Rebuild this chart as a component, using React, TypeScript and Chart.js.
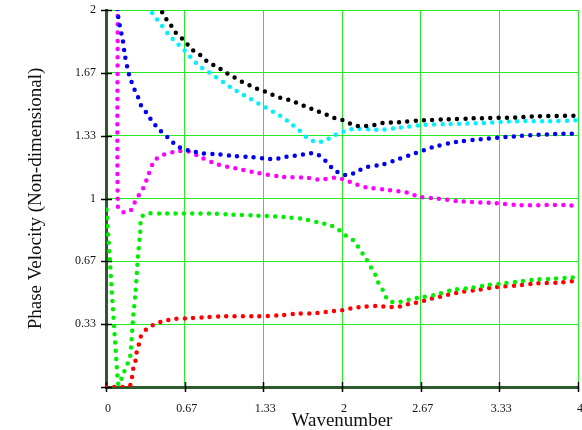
import React, { useEffect, useRef } from "react";
import { Chart, registerables } from "chart.js";

Chart.register(...registerables);

const xTickValues = [0, 2 / 3, 4 / 3, 2, 8 / 3, 10 / 3, 4];
const xTickLabels = ["0", "0.67", "1.33", "2", "2.67", "3.33", "4"];
const yTickValues = [0, 1 / 3, 2 / 3, 1, 4 / 3, 5 / 3, 2];
const yTickLabels = ["", "0.33", "0.67", "1", "1.33", "1.67", "2"];

const blackX = [0.45, 0.49, 0.54, 0.59, 0.66, 0.73, 0.8, 0.87, 0.94, 1.01, 1.08, 1.15, 1.22, 1.29, 1.36, 1.43, 1.5, 1.57, 1.64, 1.71, 1.78, 1.85, 1.92, 1.99, 2.06, 2.13, 2.2, 2.27, 2.34, 2.48, 2.69, 2.9, 3.11, 3.47, 3.61, 4.0];
const blackY = [2.03, 1.97, 1.93, 1.88, 1.84, 1.79, 1.76, 1.72, 1.7, 1.67, 1.645, 1.62, 1.6, 1.58, 1.565, 1.545, 1.53, 1.52, 1.5, 1.485, 1.465, 1.45, 1.43, 1.42, 1.4, 1.385, 1.385, 1.39, 1.4, 1.405, 1.415, 1.42, 1.425, 1.43, 1.435, 1.44];

const cyanX = [0.35, 0.42, 0.47, 0.53, 0.59, 0.66, 0.73, 0.8, 0.87, 0.94, 1.01, 1.08, 1.15, 1.22, 1.29, 1.36, 1.43, 1.5, 1.57, 1.64, 1.71, 1.78, 1.85, 1.92, 1.99, 2.06, 2.13, 2.27, 2.34, 2.48, 2.69, 2.9, 3.18, 3.47, 3.75, 4.0];
const cyanY = [2.02, 1.96, 1.92, 1.87, 1.83, 1.79, 1.74, 1.7, 1.67, 1.64, 1.61, 1.58, 1.555, 1.53, 1.505, 1.48, 1.455, 1.43, 1.395, 1.36, 1.32, 1.3, 1.305, 1.33, 1.35, 1.365, 1.37, 1.365, 1.365, 1.375, 1.39, 1.395, 1.4, 1.41, 1.41, 1.415];

const blueX = [0.095, 0.1, 0.11, 0.125, 0.14, 0.16, 0.19, 0.21, 0.24, 0.27, 0.3, 0.35, 0.39, 0.46, 0.53, 0.6, 0.67, 0.74, 0.81, 0.95, 1.09, 1.23, 1.37, 1.44, 1.51, 1.58, 1.65, 1.72, 1.79, 1.86, 1.92, 1.99, 2.06, 2.13, 2.2, 2.34, 2.48, 2.62, 2.76, 2.97, 3.18, 3.47, 3.74, 4.0];
const blueY = [2.05, 1.98, 1.94, 1.89, 1.85, 1.76, 1.67, 1.63, 1.58, 1.54, 1.49, 1.45, 1.41, 1.36, 1.32, 1.28, 1.26, 1.25, 1.24, 1.235, 1.225, 1.22, 1.21, 1.21, 1.22, 1.225, 1.23, 1.24, 1.235, 1.2, 1.16, 1.13, 1.125, 1.145, 1.165, 1.18, 1.21, 1.24, 1.27, 1.3, 1.315, 1.33, 1.34, 1.345];

const magentaX = [0.1, 0.1, 0.13, 0.2, 0.24, 0.28, 0.32, 0.35, 0.41, 0.48, 0.6, 0.7, 0.8, 0.95, 1.1, 1.25, 1.5, 1.7, 1.8, 1.95, 2.02, 2.1, 2.2, 2.4, 2.56, 2.65, 2.8, 3.0, 3.3, 3.5, 3.9, 4.0];
const magentaY = [2.1, 0.96, 0.93, 0.93, 0.975, 1.02, 1.06, 1.11, 1.2, 1.23, 1.25, 1.25, 1.22, 1.18, 1.16, 1.14, 1.115, 1.11, 1.1, 1.11, 1.1, 1.08, 1.06, 1.045, 1.03, 1.01, 1.0, 0.985, 0.975, 0.965, 0.965, 0.96];

const greenX = [0.005, 0.1, 0.11, 0.14, 0.17, 0.2, 0.21, 0.23, 0.25, 0.27, 0.29, 0.3, 0.35, 0.5, 0.9, 1.05, 1.26, 1.54, 1.68, 1.82, 1.89, 1.96, 2.03, 2.1, 2.15, 2.2, 2.24, 2.28, 2.31, 2.35, 2.39, 2.45, 2.52, 2.58, 2.66, 2.8, 2.94, 3.08, 3.23, 3.37, 3.51, 3.65, 3.79, 3.93, 4.0];
const greenY = [0.94, 0.03, 0.01, 0.06, 0.105, 0.15, 0.19, 0.37, 0.5, 0.685, 0.82, 0.9, 0.92, 0.92, 0.92, 0.915, 0.91, 0.9, 0.89, 0.87, 0.86, 0.84, 0.805, 0.775, 0.73, 0.685, 0.64, 0.6, 0.55, 0.51, 0.46, 0.45, 0.455, 0.465, 0.475, 0.49, 0.515, 0.525, 0.54, 0.55, 0.56, 0.57, 0.575, 0.58, 0.585];

const redX = [0, 0.07, 0.13, 0.2, 0.22, 0.23, 0.25, 0.26, 0.28, 0.3, 0.35, 0.42, 0.49, 0.57, 0.7, 0.84, 0.98, 1.26, 1.47, 1.62, 1.75, 1.82, 1.89, 1.96, 2.03, 2.1, 2.17, 2.31, 2.38, 2.45, 2.52, 2.59, 2.66, 2.73, 2.8, 2.87, 2.94, 3.01, 3.15, 3.3, 3.51, 3.65, 3.86, 4.0];
const redY = [0, 0, 0, 0.005, 0.05, 0.095, 0.14, 0.185, 0.23, 0.275, 0.31, 0.335, 0.35, 0.36, 0.365, 0.37, 0.375, 0.375, 0.38, 0.39, 0.39, 0.395, 0.4, 0.405, 0.41, 0.42, 0.425, 0.43, 0.425, 0.425, 0.43, 0.445, 0.45, 0.465, 0.475, 0.485, 0.495, 0.505, 0.515, 0.53, 0.54, 0.55, 0.555, 0.565];

const seriesList = [
  { name: "black", xs: blackX, ys: blackY, color: "#000000" },
  { name: "cyan", xs: cyanX, ys: cyanY, color: "#00f0ff" },
  { name: "blue", xs: blueX, ys: blueY, color: "#0000f0" },
  { name: "magenta", xs: magentaX, ys: magentaY, color: "#ff00ff" },
  { name: "green", xs: greenX, ys: greenY, color: "#00ee00" },
  { name: "red", xs: redX, ys: redY, color: "#ff0000" },
];

const SERIF = "'Liberation Serif', 'Times New Roman', serif";

const crossTicks = {
  id: "crossTicks",
  beforeDatasetsDraw(chart: any) {
    const { ctx, chartArea, scales } = chart;
    ctx.save();
    ctx.strokeStyle = "#000";
    ctx.lineWidth = 1.5;
    for (const v of yTickValues) {
      const y = Math.round(scales.y.getPixelForValue(v)) + 0.5;
      ctx.beginPath();
      ctx.moveTo(chartArea.left - 5, y);
      ctx.lineTo(chartArea.left + 6, y);
      ctx.stroke();
    }
    for (const v of xTickValues) {
      const x = Math.round(scales.x.getPixelForValue(v)) + 0.5;
      ctx.beginPath();
      ctx.moveTo(x, chartArea.bottom - 5);
      ctx.lineTo(x, chartArea.bottom + 5);
      ctx.stroke();
    }
    ctx.restore();
  },
};

export default function App() {
  const ref = useRef<HTMLCanvasElement | null>(null);
  useEffect(() => {
    if (!ref.current) return;
    const chart = new Chart(ref.current, {
      type: "line",
      data: {
        datasets: seriesList.map((s) => ({
          label: s.name,
          data: s.xs.map((x, i) => ({ x, y: s.ys[i] })),
          borderColor: s.color,
          backgroundColor: s.color,
          borderWidth: 4.5,
          borderDash: [0, 8.3],
          borderCapStyle: "round",
          pointRadius: 0,
          tension: 0.3,
          fill: false,
        })),
      },
      options: {
        animation: false,
        responsive: false,
        events: [],
        layout: { padding: { top: 10, right: 4, left: 0, bottom: 0 } },
        plugins: { legend: { display: false }, tooltip: { enabled: false } },
        scales: {
          x: {
            type: "linear",
            min: 0,
            max: 4,
            afterBuildTicks: (scale: any) => {
              scale.ticks = xTickValues.map((value) => ({ value }));
            },
            afterFit: (scale: any) => {
              scale.height = 43;
              scale.paddingLeft = 0;
              scale.paddingRight = 0;
              scale.paddingTop = 0;
              scale.paddingBottom = 0;
            },
            ticks: {
              callback: (_v: any, i: number) => xTickLabels[i],
              font: { family: SERIF, size: 12 },
              color: "#111",
              padding: 15,
              labelOffset: 2,
              maxRotation: 0,
              autoSkip: false,
            },
            grid: { color: "rgb(40,235,40)", lineWidth: 1, drawTicks: false },
            border: { display: true, color: "#2d5a2d", width: 3 },
            title: {
              display: true,
              text: "Wavenumber",
              font: { family: SERIF, size: 19, lineHeight: 1 },
              color: "#111",
              padding: { top: 0, bottom: -1 },
            },
          },
          y: {
            type: "linear",
            min: 0,
            max: 2,
            afterBuildTicks: (scale: any) => {
              scale.ticks = yTickValues.map((value) => ({ value }));
            },
            afterFit: (scale: any) => {
              scale.width = 106;
              scale.paddingLeft = 0;
              scale.paddingRight = 0;
              scale.paddingTop = 0;
              scale.paddingBottom = 0;
            },
            ticks: {
              callback: (_v: any, i: number) => yTickLabels[i],
              font: { family: SERIF, size: 12 },
              color: "#111",
              padding: 10,
              autoSkip: false,
            },
            grid: { color: "rgb(40,235,40)", lineWidth: 1, drawTicks: false },
            border: { display: true, color: "#2d5a2d", width: 3 },
            title: {
              display: true,
              text: "Phase Velocity (Non-dimensional)",
              font: { family: SERIF, size: 19, lineHeight: 1 },
              color: "#111",
              padding: { top: 27, bottom: 0 },
            },
          },
        },
      },
      plugins: [crossTicks],
    } as any);
    return () => chart.destroy();
  }, []);
  return (
    <div style={{ position: "fixed", left: 0, top: 0, width: 582, height: 430, background: "#fff" }}>
      <canvas ref={ref} width={582} height={430} style={{ width: 582, height: 430 }} />
    </div>
  );
}
